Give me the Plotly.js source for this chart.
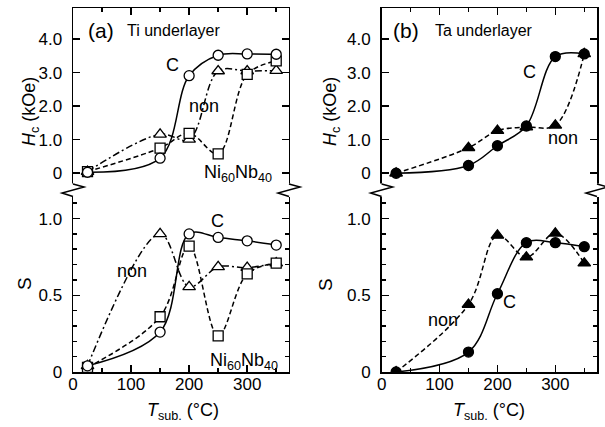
<!DOCTYPE html>
<html>
<head>
<meta charset="utf-8">
<script src="https://cdn.plot.ly/plotly-3.0.1.min.js"></script>
<style>
  html, body { margin: 0; padding: 0; background: #fff; }
  #chart { width: 605px; height: 427px; }
</style>
</head>
<body>
<div id="chart"></div>
<script>
// Substrate temperatures (°C)
const temps = [25, 150, 200, 250, 300, 350];

// (a) Ti underlayer: coercivity Hc (kOe)
const tiHcC    = [0.03, 0.45, 2.91, 3.52, 3.56, 3.55];
const tiHcNon  = [0.05, 1.16, 1.01, 3.05, 3.05, 3.06];
const tiHcNiNb = [0.05, 0.75, 1.19, 0.58, 2.95, 3.35];
// (a) Ti underlayer: squareness S
const tiSC     = [0.04, 0.26, 0.90, 0.877, 0.855, 0.827];
const tiSNon   = [0.04, 0.90, 0.555, 0.685, 0.68, 0.71];
const tiSNiNb  = [0.03, 0.36, 0.82, 0.235, 0.64, 0.71];

// (b) Ta underlayer: coercivity Hc (kOe)
const taHcC    = [0.0, 0.23, 0.82, 1.41, 3.48, 3.56];
const taHcNon  = [0.0, 0.76, 1.27, 1.38, 1.43, 3.56];
// (b) Ta underlayer: squareness S
const taSC     = [0.0, 0.13, 0.51, 0.843, 0.843, 0.817];
const taSNon   = [0.0, 0.44, 0.89, 0.748, 0.904, 0.709];

// Tick labels
const hcTickVals = [0, 1, 2, 3, 4];
const hcTickText = ['0', '1.0', '2.0', '3.0', '4.0'];
const sTickVals  = [0, 0.5, 1.0];
const sTickText  = ['0', '0.5', '1.0'];

const FONT = 'Liberation Sans, Arial, Helvetica, sans-serif';
const LW = 1.5;

// plot area geometry (px) used for paper-coordinate decorations
const W = 605, H = 427;
const M = { l: 73, r: 8, t: 8, b: 55 };
const PW = W - M.l - M.r, PH = H - M.t - M.b;
const col1 = [0, 0.4122];
const col2 = [0.589, 1];
const rowBreak = 0.4945;
const rowBottom = [0, rowBreak];
const rowTop = [rowBreak, 1];
const px = v => v / PW;   // horizontal pixels -> paper
const py = v => v / PH;   // vertical pixels -> paper

function lineTrace(x, y, xa, ya, dash) {
  return { x: x, y: y, xaxis: xa, yaxis: ya, mode: 'lines', hoverinfo: 'skip',
           line: { color: '#000', width: LW, shape: 'spline', smoothing: 1, dash: dash },
           showlegend: false };
}
function markerTrace(x, y, xa, ya, symbol, filled, size) {
  return { x: x, y: y, xaxis: xa, yaxis: ya, mode: 'markers', hoverinfo: 'skip',
           marker: { symbol: symbol, size: size, color: filled ? '#000' : '#fff',
                     line: { color: '#000', width: 1.3 } },
           showlegend: false };
}

const DASH = '5px,3px';
const DASHDOT = '7px,3px,2px,3px';

const data = [
  // (a) Hc
  lineTrace(temps, tiHcNon, 'x2', 'y2', DASHDOT),
  lineTrace(temps, tiHcNiNb, 'x2', 'y2', DASH),
  lineTrace(temps, tiHcC, 'x2', 'y2', 'solid'),
  // (a) S
  lineTrace(temps, tiSNon, 'x', 'y', DASHDOT),
  lineTrace(temps, tiSNiNb, 'x', 'y', DASH),
  lineTrace(temps, tiSC, 'x', 'y', 'solid'),
  // (b) Hc
  lineTrace(temps, taHcNon, 'x4', 'y4', DASH),
  lineTrace(temps, taHcC, 'x4', 'y4', 'solid'),
  // (b) S
  lineTrace(temps, taSNon, 'x3', 'y3', DASH),
  lineTrace(temps, taSC, 'x3', 'y3', 'solid'),

  markerTrace(temps, tiHcNon, 'x2', 'y2', 'triangle-up', false, 11),
  markerTrace(temps, tiHcNiNb, 'x2', 'y2', 'square', false, 10),
  markerTrace(temps, tiHcC, 'x2', 'y2', 'circle', false, 10),
  markerTrace(temps, tiSNon, 'x', 'y', 'triangle-up', false, 11),
  markerTrace(temps, tiSNiNb, 'x', 'y', 'square', false, 10),
  markerTrace(temps, tiSC, 'x', 'y', 'circle', false, 10),
  markerTrace(temps, taHcNon, 'x4', 'y4', 'triangle-up', true, 11),
  markerTrace(temps, taHcC, 'x4', 'y4', 'circle', true, 10),
  markerTrace(temps, taSNon, 'x3', 'y3', 'triangle-up', true, 11),
  markerTrace(temps, taSC, 'x3', 'y3', 'circle', true, 10)
];

function xAxis(domain, anchor, top) {
  return {
    domain: domain, anchor: anchor, range: [0, 372], side: top ? 'top' : 'bottom',
    tickmode: 'linear', tick0: 0, dtick: 100,
    ticks: 'inside', ticklen: 7, tickwidth: LW, tickcolor: '#000',
    minor: { tickmode: 'linear', tick0: 0, dtick: 50, ticks: 'inside', ticklen: 4,
             tickwidth: LW, tickcolor: '#000', showgrid: false },
    showticklabels: !top, ticklabelstandoff: -4,
    tickfont: { family: FONT, size: 17, color: '#000' },
    showline: true, linewidth: LW, linecolor: '#000', mirror: false,
    showgrid: false, zeroline: false, fixedrange: true
  };
}
function yAxis(domain, anchor, range, vals, text, minorStep) {
  const ax = {
    domain: domain, anchor: anchor, range: range,
    tickmode: 'array', tickvals: vals, ticktext: text,
    ticks: 'inside', ticklen: 7, tickwidth: LW, tickcolor: '#000',
    ticklabelstandoff: 6,
    tickfont: { family: FONT, size: 17, color: '#000' },
    showline: true, linewidth: LW, linecolor: '#000', mirror: 'ticks',
    showgrid: false, zeroline: false, fixedrange: true
  };
  if (minorStep) {
    ax.minor = { tickmode: 'linear', tick0: 0, dtick: minorStep, ticks: 'inside',
                 ticklen: 4, tickwidth: LW, tickcolor: '#000', showgrid: false };
  }
  return ax;
}

const hcRange = [-0.56, 4.93];
const sRange = [0, 1.173];

// axis break marks on the four vertical frame lines
const shapes = [];
const breakY = rowBreak;
[col1[0], col1[1], col2[0], col2[1]].forEach(xe => {
  shapes.push({ type: 'rect', xref: 'paper', yref: 'paper', layer: 'above',
    x0: xe - px(2.5), x1: xe + px(2.5), y0: breakY - py(5), y1: breakY + py(8.5),
    fillcolor: '#fff', line: { width: 0 } });
  const p = [
    [xe, breakY + py(8)],
    [xe + px(11), breakY + py(5)],
    [xe - px(11), breakY - py(1)],
    [xe, breakY - py(4.5)]
  ];
  shapes.push({ type: 'path', xref: 'paper', yref: 'paper', layer: 'above',
    path: 'M' + p.map(q => q[0] + ',' + q[1]).join(' L'),
    line: { color: '#000', width: LW } });
});

function note(text, x, y, xa, ya, size, anchor) {
  return { text: text, x: x, y: y, xref: xa, yref: ya, showarrow: false,
           xanchor: anchor || 'center', yanchor: 'middle',
           font: { family: FONT, size: size || 18, color: '#000' } };
}
function paperNote(text, x, y, size, anchor, angle) {
  return { text: text, x: x, y: y, xref: 'paper', yref: 'paper', showarrow: false,
           xanchor: anchor || 'center', yanchor: 'middle', textangle: angle || 0,
           font: { family: FONT, size: size, color: '#000' } };
}
const toX = pxv => (pxv - M.l) / PW;
const toY = pyv => (H - M.b - pyv) / PH;

const HC_TITLE = '<i>H</i><sub>c</sub> (kOe)';
const T_TITLE = '<i>T</i><sub>sub.</sub> (°C)';
const NINB = 'Ni<sub>60</sub>Nb<sub>40</sub>';

const annotations = [
  // (a) Hc
  note('C', 172, 3.23, 'x2', 'y2'),
  note('non', 226, 2.0, 'x2', 'y2'),
  note(NINB, 222, 0.0, 'x2', 'y2', 18, 'left'),
  // (a) S
  note('C', 248, 0.985, 'x', 'y'),
  note('non', 102, 0.66, 'x', 'y'),
  note(NINB, 233, 0.07, 'x', 'y', 18, 'left'),
  // (b) Hc
  note('C', 256, 3.02, 'x4', 'y4'),
  note('non', 313, 1.05, 'x4', 'y4'),
  // (b) S
  note('C', 220, 0.456, 'x3', 'y3'),
  note('non', 106, 0.34, 'x3', 'y3'),

  // panel headings
  paperNote('(a)', toX(86), toY(30), 21, 'left'),
  paperNote('Ti underlayer', toX(125), toY(30), 16, 'left'),
  paperNote('(b)', toX(391), toY(30), 21, 'left'),
  paperNote('Ta underlayer', toX(433), toY(30), 16, 'left'),

  // axis titles
  paperNote(HC_TITLE, toX(30), toY(112), 18, 'center', -90),
  paperNote(HC_TITLE, toX(331), toY(112), 18, 'center', -90),
  paperNote('S', toX(24), toY(284), 19, 'center', -90),
  paperNote('S', toX(325), toY(285), 19, 'center', -90),
  paperNote(T_TITLE, toX(183), toY(411), 18, 'center'),
  paperNote(T_TITLE, toX(489), toY(411), 18, 'center')
];

const layout = {
  width: W, height: H,
  margin: { l: M.l, r: M.r, t: M.t, b: M.b, pad: 0 },
  paper_bgcolor: '#fff', plot_bgcolor: 'rgba(0,0,0,0)',
  font: { family: FONT, color: '#000' },
  showlegend: false,
  xaxis:  xAxis(col1, 'y', false),
  yaxis:  yAxis(rowBottom, 'x', sRange, sTickVals, sTickText, 0.1),
  xaxis2: xAxis(col1, 'y2', true),
  yaxis2: yAxis(rowTop, 'x2', hcRange, hcTickVals, hcTickText, null),
  xaxis3: xAxis(col2, 'y3', false),
  yaxis3: yAxis(rowBottom, 'x3', sRange, sTickVals, sTickText, 0.1),
  xaxis4: xAxis(col2, 'y4', true),
  yaxis4: yAxis(rowTop, 'x4', hcRange, hcTickVals, hcTickText, null),
  shapes: shapes,
  annotations: annotations
};

Plotly.newPlot('chart', data, layout, { displayModeBar: false, staticPlot: true });
</script>
</body>
</html>
